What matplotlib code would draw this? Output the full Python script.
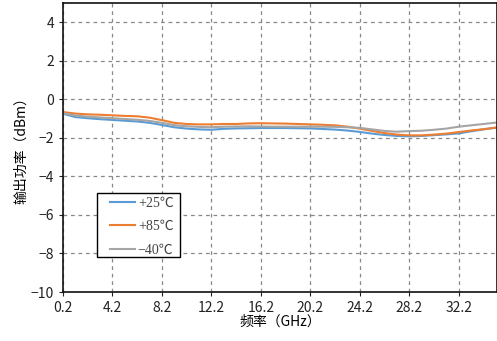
import matplotlib
matplotlib.use("Agg")
import matplotlib.pyplot as plt
from matplotlib.patches import Rectangle

plt.rcParams['font.family'] = ['Noto Sans CJK SC', 'DejaVu Sans']
plt.rcParams['axes.unicode_minus'] = True

freq = [0.2, 1.2, 2.2, 3.2, 4.2, 5.2, 6.2, 7.2, 8.2, 9.2, 10.2, 11.2, 12.2,
        13.2, 14.2, 15.2, 16.2, 17.2, 18.2, 19.2, 20.2, 21.2, 22.2, 23.2,
        24.2, 25.2, 26.2, 27.2, 28.2, 29.2, 30.2, 31.2, 32.2, 33.2, 34.2, 35.2]

p25 = [-0.75, -0.92, -0.98, -1.03, -1.07, -1.11, -1.15, -1.22, -1.33, -1.45,
       -1.52, -1.56, -1.58, -1.53, -1.51, -1.50, -1.49, -1.49, -1.49, -1.50,
       -1.51, -1.54, -1.57, -1.62, -1.69, -1.78, -1.85, -1.90, -1.92, -1.90,
       -1.86, -1.82, -1.77, -1.66, -1.56, -1.47]
p85 = [-0.66, -0.74, -0.78, -0.80, -0.83, -0.86, -0.88, -0.95, -1.08, -1.22,
       -1.28, -1.30, -1.30, -1.28, -1.28, -1.25, -1.24, -1.25, -1.26, -1.28,
       -1.30, -1.32, -1.35, -1.42, -1.52, -1.64, -1.75, -1.83, -1.87, -1.87,
       -1.83, -1.78, -1.70, -1.62, -1.55, -1.47]
m40 = [-0.72, -0.84, -0.90, -0.94, -0.98, -1.02, -1.06, -1.12, -1.22, -1.34,
       -1.40, -1.43, -1.45, -1.42, -1.41, -1.40, -1.41, -1.42, -1.42, -1.42,
       -1.42, -1.42, -1.43, -1.45, -1.48, -1.56, -1.64, -1.68, -1.65, -1.63,
       -1.58, -1.52, -1.42, -1.35, -1.28, -1.21]

series_labels = ['+25℃', '+85℃', '−40℃']
series_colors = ['#5B9BD5', '#ED7D31', '#A5A5A5']
xticks = [0.2, 4.2, 8.2, 12.2, 16.2, 20.2, 24.2, 28.2, 32.2]
yticks = [-10, -8, -6, -4, -2, 0, 2, 4]

W, H = 497, 341
fig = plt.figure(figsize=(W / 100, H / 100), dpi=100)
ax = fig.add_axes([63/W, 1 - 292/H, 1 - 63/W, (292 - 3)/H])

for vals, lab, col in zip([p25, p85, m40], series_labels, series_colors):
    ax.plot(freq, vals, color=col, lw=1.5, label=lab)

ax.set_xlim(0.2, 35.3)
ax.set_ylim(-10, 5)
ax.set_xticks(xticks)
ax.set_xticklabels([f"{t:.1f}" for t in xticks])
ax.set_yticks(yticks)
ax.tick_params(direction='out', length=3, labelsize=10, colors='#222222')
ax.grid(True, color='#888888', linestyle=(0, (3, 3)), linewidth=0.9)
for s in ax.spines.values():
    s.set_color('#111111')
    s.set_linewidth(1.2)

ax.set_xlabel('频率（GHz）', fontsize=10, labelpad=0)
ax.set_ylabel('输出功率（dBm）', fontsize=10, labelpad=2)

# legend frame box
frame = Rectangle((97/W, 1 - 257/H), (180 - 97)/W, (257 - 193)/H,
                  transform=fig.transFigure, facecolor='white',
                  edgecolor='black', linewidth=1.0, zorder=4, clip_on=False)
ax.add_patch(frame)

leg = ax.legend(loc='upper left', bbox_to_anchor=(110/W, 1 - 197/H),
                bbox_transform=fig.transFigure, borderaxespad=0,
                frameon=False, handlelength=1.8, labelspacing=0.74,
                prop={'family': ['Liberation Serif', 'Noto Sans CJK SC'], 'size': 10},
                borderpad=0, handletextpad=0.2)
leg.set_zorder(5)
for t in leg.get_texts():
    t.set_color('#444444')

fig.savefig('out.png', dpi=100)
